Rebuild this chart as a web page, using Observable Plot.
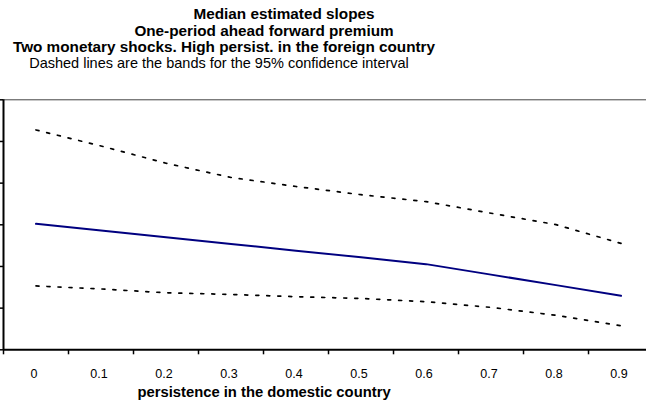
<!DOCTYPE html>
<html>
<head>
<meta charset="utf-8">
<script src="https://cdn.jsdelivr.net/npm/d3@7"></script>
<script src="https://cdn.jsdelivr.net/npm/@observablehq/plot@0.6"></script>
<style>
  html, body { margin: 0; padding: 0; background: #fff; }
  body { width: 646px; height: 409px; overflow: hidden; font-family: "Liberation Sans", Arial, sans-serif; color: #000; }
  #titles { position: relative; width: 646px; height: 72px; }
  #titles div { position: absolute; white-space: nowrap; transform: translate(-50%, -50%); line-height: 1; }
  .b { font-weight: bold; font-size: 15.3px; }
  .r { font-size: 14.5px; }
  #chart svg { display: block; }
</style>
</head>
<body>
<div id="titles">
  <div class="b" style="left:284px; top:14px;">Median estimated slopes</div>
  <div class="b" style="left:264px; top:31px;">One-period ahead forward premium</div>
  <div class="b" style="left:224px; top:47px;">Two monetary shocks. High persist. in the foreign country</div>
  <div class="r" style="left:219px; top:63px;">Dashed lines are the bands for the 95% confidence interval</div>
</div>
<div id="chart"></div>
<script>
// Categories (persistence in the domestic country)
const persistence = [0, 0.1, 0.2, 0.3, 0.4, 0.5, 0.6, 0.7, 0.8, 0.9];
const tickLabels = ["0", "0.1", "0.2", "0.3", "0.4", "0.5", "0.6", "0.7", "0.8", "0.9"];
// Series (y axis labels are not visible in the reference; values on an assumed scale)
const median = [0.512, 0.432, 0.351, 0.271, 0.190, 0.110, 0.028, -0.098, -0.224, -0.352];
const upperBand = [1.638, 1.446, 1.239, 1.068, 0.960, 0.861, 0.778, 0.639, 0.502, 0.277];
const lowerBand = [-0.234, -0.270, -0.316, -0.336, -0.363, -0.384, -0.423, -0.491, -0.586, -0.712];
const yTicks = [-1, -0.5, 0, 0.5, 1, 1.5, 2];
const xTitle = "persistence in the domestic country";

const rows = persistence.map((p, i) => ({p, median: median[i], upper: upperBand[i], lower: lowerBand[i]}));
const edges = persistence.map(p => p - 0.05);

const chart = Plot.plot({
  width: 646,
  height: 337,
  marginLeft: 3,
  marginRight: 0,
  marginTop: 27.3,
  marginBottom: 59.7,
  style: {fontFamily: "'Liberation Sans', Arial, sans-serif", fontSize: "12px", color: "#000", background: "#fff"},
  x: {type: "linear", domain: [-0.05, 0.9392]},
  y: {type: "linear", domain: [-1, 2]},
  marks: [
    Plot.ruleY([2], {stroke: "#444", strokeWidth: 1}),
    Plot.line(rows, {x: "p", y: "upper", stroke: "#000", strokeWidth: 1.7, strokeDasharray: "3,8"}),
    Plot.line(rows, {x: "p", y: "lower", stroke: "#000", strokeWidth: 1.7, strokeDasharray: "3,8"}),
    Plot.line(rows, {x: "p", y: "median", stroke: "#000080", strokeWidth: 2}),
    Plot.axisY({ticks: yTicks, tickSize: 3, tickFormat: () => "", stroke: "#000", strokeWidth: 1.5, label: null}),
    Plot.axisX({ticks: edges, tickSize: 5, tickFormat: () => "", stroke: "#000", strokeWidth: 1.5, label: null}),
    Plot.axisX({ticks: persistence, tickSize: 0, tickPadding: 19, tickFormat: (d) => tickLabels[persistence.indexOf(d)], fontSize: 12.5, dx: -2, label: null}),
    Plot.ruleX([-0.05], {stroke: "#000", strokeWidth: 2}),
    Plot.ruleY([-1], {stroke: "#000", strokeWidth: 2}),
    Plot.text([xTitle], {frameAnchor: "bottom", dx: -61, dy: 47, fontWeight: "bold", fontSize: 14.8, fill: "#000"})
  ]
});
document.getElementById("chart").appendChild(chart);
</script>
</body>
</html>
